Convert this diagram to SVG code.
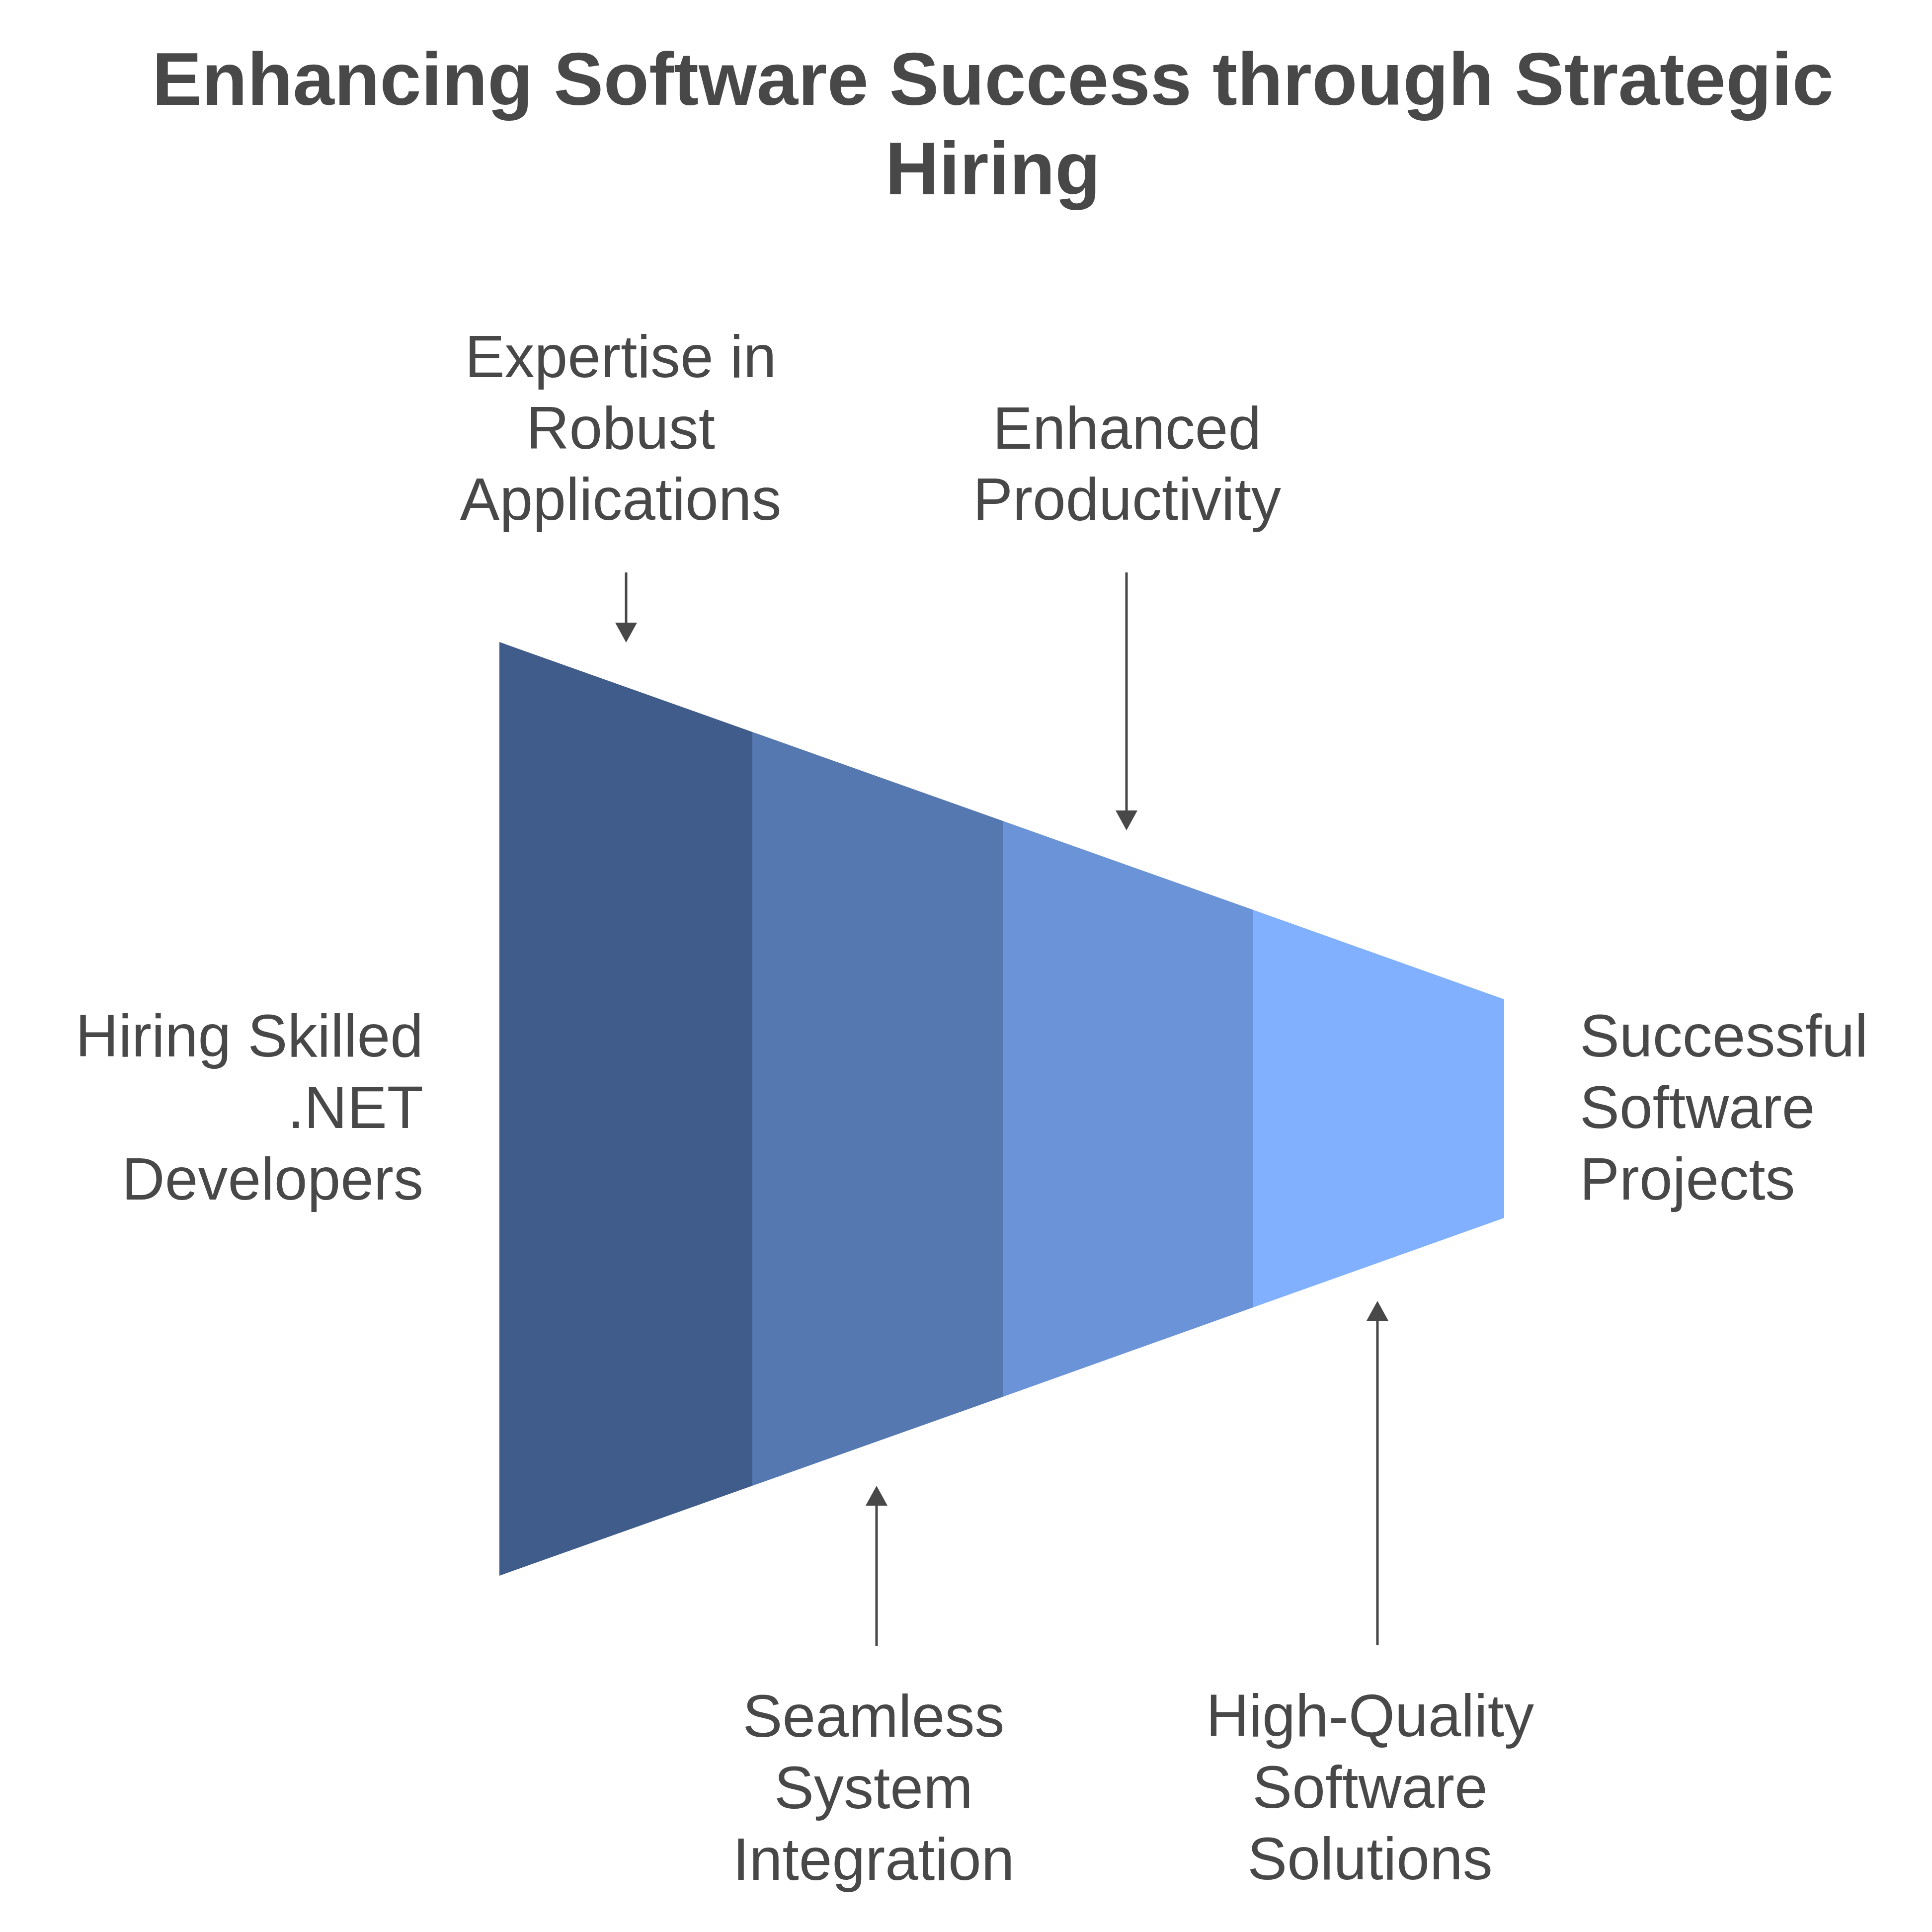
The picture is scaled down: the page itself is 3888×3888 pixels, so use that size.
<svg xmlns="http://www.w3.org/2000/svg" width="3888" height="3888" viewBox="0 0 3888 3888">
<style>
.title{font-family:"Liberation Sans",Arial,sans-serif;font-weight:bold;font-size:150px;fill:#484848;text-anchor:middle}
.lbl{font-family:"Liberation Sans",Arial,sans-serif;font-size:120px;fill:#484848}
.c{text-anchor:middle}
.e{text-anchor:end}
.s{text-anchor:start}
.conn{stroke:#484848;stroke-width:5;fill:none}
</style>
<defs>
<marker id="ah" viewBox="0 0 40 44" markerWidth="40" markerHeight="44" refX="0" refY="22" markerUnits="userSpaceOnUse" orient="auto">
<path d="M0,0 L40,22 L0,44 Z" fill="#484848"/>
</marker>
</defs>
<rect x="0" y="0" width="3888" height="3888" fill="#ffffff"/>
<g id="title">
<text class="title" x="1998" y="211">Enhancing Software Success through Strategic</text>
<text class="title" x="1998" y="391">Hiring</text>
</g>
<g id="funnel">
<polygon id="stage1" points="1005,1292 1514,1473 1514,2990 1005,3171" fill="#405c8b"/>
<polygon id="stage2" points="1514,1473 2018,1652 2018,2811 1514,2990" fill="#5578b1"/>
<polygon id="stage3" points="2018,1652 2522,1831 2522,2631 2018,2811" fill="#6a94d7"/>
<polygon id="stage4" points="2522,1831 3027,2011 3027,2451 2522,2631" fill="#80b0ff"/>
</g>
<g id="connectors">
<line class="conn" x1="1260" y1="1152" x2="1260" y2="1253" marker-end="url(#ah)"/>
<line class="conn" x1="2267" y1="1152" x2="2267" y2="1631" marker-end="url(#ah)"/>
<line class="conn" x1="1764" y1="3312" x2="1764" y2="3030" marker-end="url(#ah)"/>
<line class="conn" x1="2772" y1="3311" x2="2772" y2="2658" marker-end="url(#ah)"/>
</g>
<g id="input">
<text class="lbl e" x="852" y="2126">Hiring Skilled</text>
<text class="lbl e" x="852" y="2270">.NET</text>
<text class="lbl e" x="852" y="2414">Developers</text>
</g>
<g id="output">
<text class="lbl s" x="3179" y="2126">Successful</text>
<text class="lbl s" x="3179" y="2270">Software</text>
<text class="lbl s" x="3179" y="2414">Projects</text>
</g>
<g id="expertise">
<text class="lbl c" x="1249" y="759">Expertise in</text>
<text class="lbl c" x="1249" y="903">Robust</text>
<text class="lbl c" x="1249" y="1046">Applications</text>
</g>
<g id="productivity">
<text class="lbl c" x="2268" y="903">Enhanced</text>
<text class="lbl c" x="2268" y="1046">Productivity</text>
</g>
<g id="integration">
<text class="lbl c" x="1758" y="3495">Seamless</text>
<text class="lbl c" x="1758" y="3639">System</text>
<text class="lbl c" x="1758" y="3783">Integration</text>
</g>
<g id="quality">
<text class="lbl c" x="2757" y="3494">High-Quality</text>
<text class="lbl c" x="2757" y="3638">Software</text>
<text class="lbl c" x="2757" y="3782">Solutions</text>
</g>
</svg>
